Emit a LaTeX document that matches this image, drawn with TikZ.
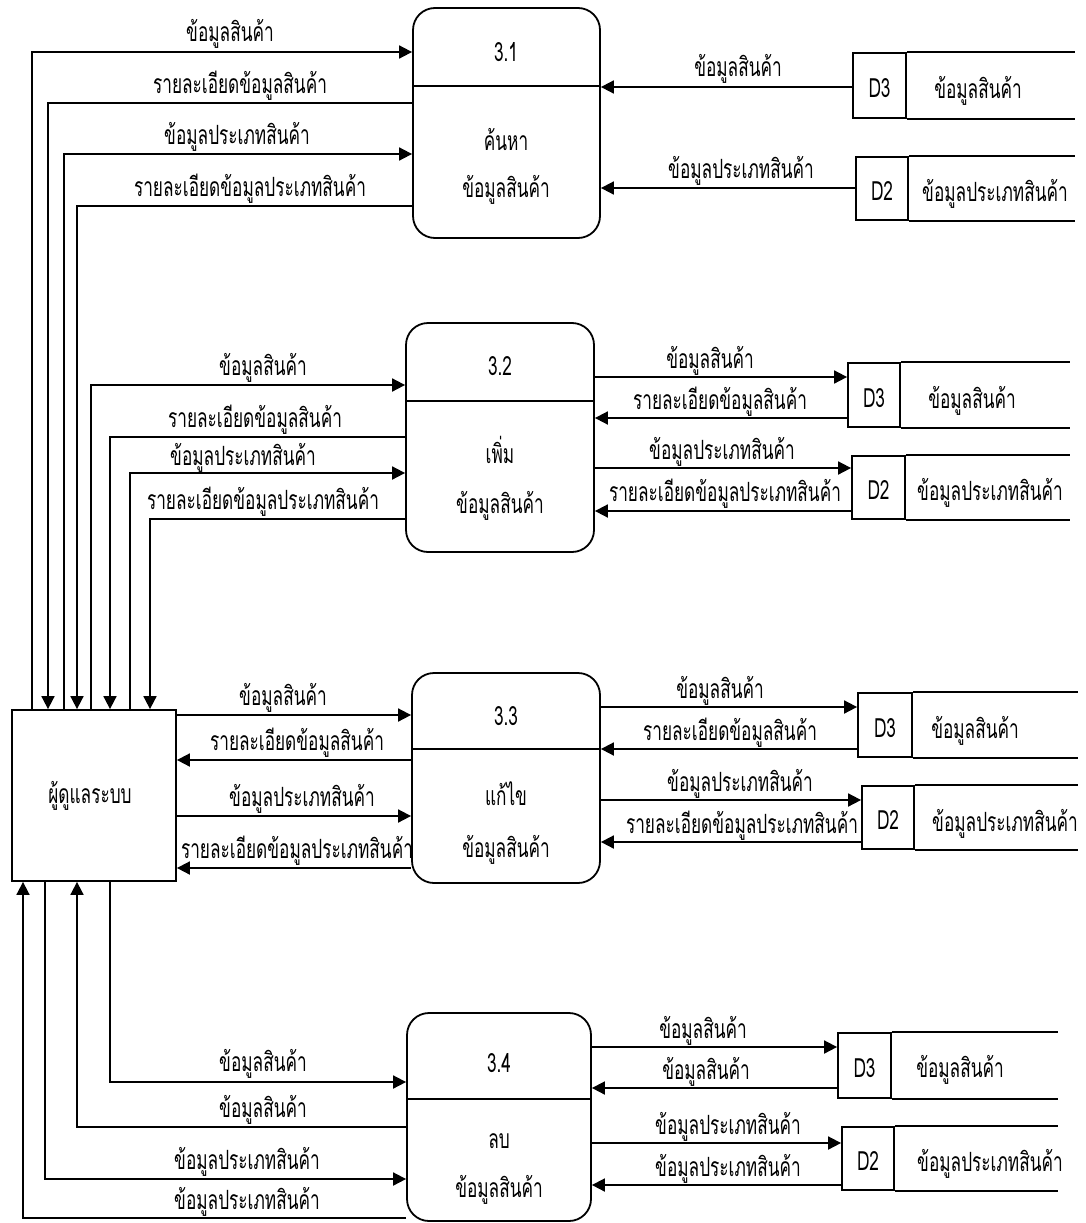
\documentclass[tikz,border=0pt]{standalone}
\usepackage{fontspec}
\newfontfamily\thai[Script=Thai,FakeStretch=0.65]{Loma}
\usetikzlibrary{arrows.meta}
\begin{document}
\begin{tikzpicture}[x=1pt,y=-1pt,line width=1.8pt,
  font=\thai\fontsize{26.5}{30}\selectfont,
  procbox/.style={draw,rounded corners=22pt,inner sep=0pt},
  entbox/.style={draw,inner sep=0pt},
  idbox/.style={draw,inner sep=0pt},
  lab/.style={anchor=base,inner sep=0pt},
  arr/.style={-{Triangle[length=13pt,width=13pt]}}]
\fill[white] (0,0) rectangle (1085,1223);
\useasboundingbox (0,0) rectangle (1085,1223);
% ---------- entity ----------
\node[entbox,minimum width=164pt,minimum height=171pt] (ent) at (94,795.5) {};
\node[lab] (entn) at (90,803) {ผู้ดูแลระบบ};
% ---------- processes ----------
\node[procbox,minimum width=187pt,minimum height=230pt] (p1) at (506.5,123) {};
\node[procbox,minimum width=188pt,minimum height=229pt] (p2) at (500,437.5) {};
\node[procbox,minimum width=188pt,minimum height=210pt] (p3) at (506,778) {};
\node[procbox,minimum width=184pt,minimum height=208pt] (p4) at (499,1117) {};
\draw ([yshift=-79pt]p1.north west) -- ([yshift=-79pt]p1.north east);
\draw ([yshift=-79pt]p2.north west) -- ([yshift=-79pt]p2.north east);
\draw ([yshift=-77pt]p3.north west) -- ([yshift=-77pt]p3.north east);
\draw ([yshift=-87pt]p4.north west) -- ([yshift=-87pt]p4.north east);
\node[lab] (p1n) at (506,62) {3.1};
\node[lab] (p1a) at (506,150) {ค้นหา};
\node[lab] (p1b) at (506,197) {ข้อมูลสินค้า};
\node[lab] (p2n) at (500,375) {3.2};
\node[lab] (p2a) at (500,463) {เพิ่ม};
\node[lab] (p2b) at (500,513) {ข้อมูลสินค้า};
\node[lab] (p3n) at (506,725) {3.3};
\node[lab] (p3a) at (506,805) {แก้ไข};
\node[lab] (p3b) at (506,857) {ข้อมูลสินค้า};
\node[lab] (p4n) at (499,1072) {3.4};
\node[lab] (p4a) at (499,1148) {ลบ};
\node[lab] (p4b) at (499,1197) {ข้อมูลสินค้า};
% ---------- data stores ----------
\node[idbox,minimum width=53pt,minimum height=65pt] (s1a) at (879.5,85.5) {};
\node[idbox,minimum width=52pt,minimum height=63pt] (s1b) at (882,188.5) {};
\node[idbox,minimum width=52pt,minimum height=64pt] (s2a) at (874,395) {};
\node[idbox,minimum width=53pt,minimum height=63pt] (s2b) at (878.5,487.5) {};
\node[idbox,minimum width=54pt,minimum height=64pt] (s3a) at (885,725) {};
\node[idbox,minimum width=52pt,minimum height=63pt] (s3b) at (888,817.5) {};
\node[idbox,minimum width=53pt,minimum height=65pt] (s4a) at (864.5,1065.5) {};
\node[idbox,minimum width=52pt,minimum height=63pt] (s4b) at (868,1158.5) {};
\foreach \s/\r/\t in {s1a/1075/D3,s1b/1075/D2,s2a/1070/D3,s2b/1070/D2,s3a/1078/D3,s3b/1078/D2,s4a/1058/D3,s4b/1058/D2}{
  \coordinate (\s-end) at (\r,0);
  \draw (\s.north east) -- (\s.north east -| \s-end);
  \draw (\s.south east) -- (\s.south east -| \s-end);
  \node[lab] (\s-id) at ([yshift=-12pt]\s.center) {\t};
}
\node[lab] (s1an) at (978,98) {ข้อมูลสินค้า};
\node[lab] (s1bn) at (995,201) {ข้อมูลประเภทสินค้า};
\node[lab] (s2an) at (972,408) {ข้อมูลสินค้า};
\node[lab] (s2bn) at (990,500) {ข้อมูลประเภทสินค้า};
\node[lab] (s3an) at (975,738) {ข้อมูลสินค้า};
\node[lab] (s3bn) at (1005,831) {ข้อมูลประเภทสินค้า};
\node[lab] (s4an) at (960,1077) {ข้อมูลสินค้า};
\node[lab] (s4bn) at (990,1171) {ข้อมูลประเภทสินค้า};
% ---------- rails and levels ----------
\foreach \n/\x in {r1/32,r2/48,r3/64,r4/77,r5/91,r6/110,r7/130,r8/150,r9/45,r10/23}
  \coordinate (\n) at (\x,0);
\foreach \n/\y in {a1/52,a2/103,a3/154,a4/206,b1/385,b2/437,b3/473,b4/519,
  c1/715,c2/760,c3/816,c4/868,d1/1082,d2/1127,d3/1179,d4/1218,
  e1/87,e2/188,f1/377,f2/418,f3/468,f4/511,g1/707,g2/749,g3/800,g4/842,
  h1/1047,h2/1088,h3/1143,h4/1185}
  \coordinate (\n) at (0,\y);
% ---------- left flows: 3.1 ----------
\draw[arr] (ent.north -| r1) |- (p1.west |- a1);
\draw[arr] (p1.west |- a2) -| (ent.north -| r2);
\draw[arr] (ent.north -| r3) |- (p1.west |- a3);
\draw[arr] (p1.west |- a4) -| (ent.north -| r4);
\node[lab] (la1) at (230,42) {ข้อมูลสินค้า};
\node[lab] (la2) at (240,93) {รายละเอียดข้อมูลสินค้า};
\node[lab] (la3) at (237,144) {ข้อมูลประเภทสินค้า};
\node[lab] (la4) at (250,196) {รายละเอียดข้อมูลประเภทสินค้า};
% ---------- left flows: 3.2 ----------
\draw[arr] (ent.north -| r5) |- (p2.west |- b1);
\draw[arr] (p2.west |- b2) -| (ent.north -| r6);
\draw[arr] (ent.north -| r7) |- (p2.west |- b3);
\draw[arr] (p2.west |- b4) -| (ent.north -| r8);
\node[lab] (lb1) at (263,375) {ข้อมูลสินค้า};
\node[lab] (lb2) at (255,427) {รายละเอียดข้อมูลสินค้า};
\node[lab] (lb3) at (243,465) {ข้อมูลประเภทสินค้า};
\node[lab] (lb4) at (263,509) {รายละเอียดข้อมูลประเภทสินค้า};
% ---------- left flows: 3.3 ----------
\draw[arr] (ent.east |- c1) -- (p3.west |- c1);
\draw[arr] (p3.west |- c2) -- (ent.east |- c2);
\draw[arr] (ent.east |- c3) -- (p3.west |- c3);
\draw[arr] (p3.west |- c4) -- (ent.east |- c4);
\node[lab] (lc1) at (283,705) {ข้อมูลสินค้า};
\node[lab] (lc2) at (297,750) {รายละเอียดข้อมูลสินค้า};
\node[lab] (lc3) at (302,806) {ข้อมูลประเภทสินค้า};
\node[lab] (lc4) at (297,858) {รายละเอียดข้อมูลประเภทสินค้า};
% ---------- left flows: 3.4 ----------
\draw[arr] (ent.south -| r6) |- (p4.west |- d1);
\draw[arr] (p4.west |- d2) -| (ent.south -| r4);
\draw[arr] (ent.south -| r9) |- (p4.west |- d3);
\draw[arr] (p4.west |- d4) -| (ent.south -| r10);
\node[lab] (ld1) at (263,1071) {ข้อมูลสินค้า};
\node[lab] (ld2) at (263,1117) {ข้อมูลสินค้า};
\node[lab] (ld3) at (247,1169) {ข้อมูลประเภทสินค้า};
\node[lab] (ld4) at (247,1209) {ข้อมูลประเภทสินค้า};
% ---------- right flows ----------
\draw[arr] (s1a.west |- e1) -- (p1.east |- e1);
\draw[arr] (s1b.west |- e2) -- (p1.east |- e2);
\node[lab] (le1) at (738,77) {ข้อมูลสินค้า};
\node[lab] (le2) at (741,178) {ข้อมูลประเภทสินค้า};
\draw[arr] (p2.east |- f1) -- (s2a.west |- f1);
\draw[arr] (s2a.west |- f2) -- (p2.east |- f2);
\draw[arr] (p2.east |- f3) -- (s2b.west |- f3);
\draw[arr] (s2b.west |- f4) -- (p2.east |- f4);
\node[lab] (lf1) at (710,368) {ข้อมูลสินค้า};
\node[lab] (lf2) at (720,409) {รายละเอียดข้อมูลสินค้า};
\node[lab] (lf3) at (722,459) {ข้อมูลประเภทสินค้า};
\node[lab] (lf4) at (725,501) {รายละเอียดข้อมูลประเภทสินค้า};
\draw[arr] (p3.east |- g1) -- (s3a.west |- g1);
\draw[arr] (s3a.west |- g2) -- (p3.east |- g2);
\draw[arr] (p3.east |- g3) -- (s3b.west |- g3);
\draw[arr] (s3b.west |- g4) -- (p3.east |- g4);
\node[lab] (lg1) at (720,698) {ข้อมูลสินค้า};
\node[lab] (lg2) at (730,740) {รายละเอียดข้อมูลสินค้า};
\node[lab] (lg3) at (740,791) {ข้อมูลประเภทสินค้า};
\node[lab] (lg4) at (742,833) {รายละเอียดข้อมูลประเภทสินค้า};
\draw[arr] (p4.east |- h1) -- (s4a.west |- h1);
\draw[arr] (s4a.west |- h2) -- (p4.east |- h2);
\draw[arr] (p4.east |- h3) -- (s4b.west |- h3);
\draw[arr] (s4b.west |- h4) -- (p4.east |- h4);
\node[lab] (lh1) at (703,1038) {ข้อมูลสินค้า};
\node[lab] (lh2) at (706,1079) {ข้อมูลสินค้า};
\node[lab] (lh3) at (728,1134) {ข้อมูลประเภทสินค้า};
\node[lab] (lh4) at (728,1176) {ข้อมูลประเภทสินค้า};
\end{tikzpicture}
\end{document}
